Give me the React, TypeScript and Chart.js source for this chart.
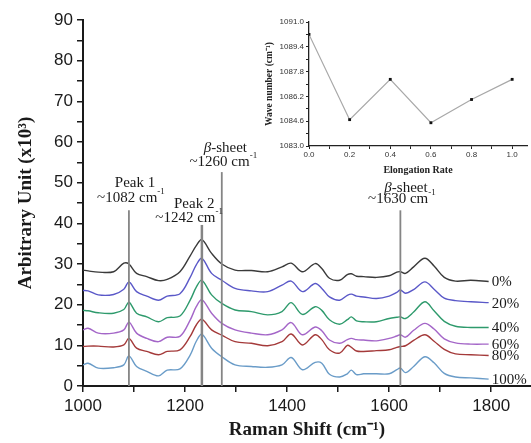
import React, { useEffect, useRef } from 'react';
import { Chart, registerables } from 'chart.js';

Chart.register(...registerables);

// Raman shift positions (cm^-1) shared by all spectra
const ramanShift = [1000, 1010, 1030, 1060, 1080, 1090, 1105, 1125, 1148, 1165, 1190, 1210, 1222, 1233, 1252, 1272, 1298, 1330, 1362, 1390, 1408, 1430, 1455, 1468, 1483, 1503, 1518, 1526, 1536, 1550, 1575, 1600, 1615, 1622, 1632, 1648, 1670, 1688, 1708, 1730, 1760, 1795];

const spectrum0 = [28.5, 28.3, 28.0, 28.1, 30.2, 30.0, 27.7, 26.9, 25.9, 26.2, 28.1, 32.0, 34.5, 36.0, 32.6, 30.0, 28.5, 28.4, 28.1, 29.3, 30.2, 28.1, 30.1, 28.9, 26.5, 26.0, 27.4, 27.6, 27.0, 26.9, 26.7, 27.1, 28.0, 28.1, 27.7, 29.3, 31.4, 29.5, 26.7, 25.8, 26.0, 25.7];
const spectrum20 = [23.5, 23.4, 22.4, 22.5, 23.8, 25.6, 23.2, 22.1, 21.1, 22.1, 22.7, 26.7, 29.8, 31.4, 27.7, 26.0, 24.0, 23.4, 23.2, 24.8, 25.8, 23.2, 25.2, 24.0, 21.9, 21.1, 22.3, 22.6, 22.1, 21.9, 21.5, 22.1, 23.0, 23.6, 22.8, 23.7, 25.6, 23.8, 21.6, 21.0, 20.7, 20.5];
const spectrum40 = [18.6, 18.5, 18.0, 17.9, 18.8, 20.6, 17.9, 17.0, 15.8, 16.8, 17.2, 21.1, 24.3, 26.0, 22.4, 20.3, 18.7, 18.3, 17.5, 18.3, 20.5, 17.6, 19.5, 18.6, 16.3, 15.2, 16.3, 17.0, 16.0, 15.8, 15.8, 16.6, 16.9, 17.0, 16.6, 18.2, 20.7, 18.5, 15.9, 14.7, 14.4, 14.4];
const spectrum60 = [13.8, 14.2, 13.0, 13.0, 13.8, 15.7, 13.0, 11.7, 10.9, 12.0, 12.2, 16.2, 19.5, 21.2, 17.9, 15.4, 13.8, 13.0, 12.6, 13.8, 15.6, 12.6, 14.5, 13.6, 11.3, 10.5, 11.4, 11.7, 11.4, 11.3, 11.1, 11.7, 12.3, 12.6, 12.0, 13.7, 15.4, 14.0, 11.6, 10.6, 10.3, 10.3];
const spectrum80 = [9.7, 9.8, 9.8, 9.6, 10.1, 11.7, 9.3, 8.5, 7.7, 8.5, 8.9, 12.2, 15.0, 16.4, 13.8, 12.5, 10.9, 10.5, 9.9, 10.9, 12.8, 10.1, 12.6, 11.4, 8.9, 8.1, 10.0, 9.5, 8.6, 8.5, 8.7, 8.9, 9.5, 9.7, 9.9, 11.2, 12.6, 11.0, 9.0, 7.9, 7.7, 7.5];
const spectrum100 = [5.2, 5.6, 4.4, 4.5, 5.2, 7.4, 4.8, 3.6, 2.5, 3.9, 4.2, 7.6, 11.0, 12.7, 9.3, 7.2, 5.2, 4.8, 4.6, 5.2, 7.0, 4.0, 5.8, 5.6, 2.9, 2.2, 3.0, 3.9, 2.8, 3.0, 3.0, 3.0, 4.0, 4.4, 3.3, 4.8, 7.2, 5.7, 3.1, 2.2, 2.0, 1.7];

const seriesLabels = ['0%', '20%', '40%', '60%', '80%', '100%'];
const seriesValues = [spectrum0, spectrum20, spectrum40, spectrum60, spectrum80, spectrum100];
const seriesColors = ['#3a3a3a', '#5a58c8', '#2e9a6c', '#a466c8', '#a43a3a', '#6a9cc8'];

// Vertical reference lines (peak positions) and their heights
const markerShift = [1090, 1233, 1272, 1622];
const markerTop = [43.2, 39.6, 52.6, 43.2];

// Inset: wave number of Peak 1 vs elongation rate
const elongationRate = [0.0, 0.2, 0.4, 0.6, 0.8, 1.0];
const waveNumber = [1090.2, 1084.7, 1087.3, 1084.5, 1086.0, 1087.3];

type Seg = { t: string; sup?: boolean; it?: boolean };
const annotations: { x: number; y: number; segs: Seg[] }[] = [
  { x: 1102, y: 49.8, segs: [{ t: 'Peak 1' }] },
  { x: 1094, y: 46.2, segs: [{ t: '~1082 cm' }, { t: '-1', sup: true }] },
  { x: 1218, y: 44.8, segs: [{ t: 'Peak 2' }] },
  { x: 1208, y: 41.2, segs: [{ t: '~1242 cm' }, { t: '-1', sup: true }] },
  { x: 1279, y: 58.6, segs: [{ t: 'β', it: true }, { t: '-sheet' }] },
  { x: 1275, y: 55.0, segs: [{ t: '~1260 cm' }, { t: '-1', sup: true }] },
  { x: 1633, y: 48.6, segs: [{ t: 'β', it: true }, { t: '-sheet' }] },
  { x: 1625, y: 45.9, segs: [{ t: '~1630 cm' }, { t: '-1', sup: true }] },
];

const SERIF = '"Liberation Serif", "Times New Roman", serif';
const SANS = '"Liberation Sans", Arial, sans-serif';

function drawRich(ctx: CanvasRenderingContext2D, segs: Seg[], cx: number, cy: number, size: number) {
  const fontFor = (s: Seg) => `${s.it ? 'italic ' : ''}${s.sup ? Math.round(size * 0.62) : size}px ${SERIF}`;
  let total = 0;
  const widths = segs.map((s) => {
    ctx.font = fontFor(s);
    const w = ctx.measureText(s.t).width;
    total += w;
    return w;
  });
  let x = cx - total / 2;
  ctx.textBaseline = 'middle';
  ctx.textAlign = 'left';
  segs.forEach((s, i) => {
    ctx.font = fontFor(s);
    ctx.fillText(s.t, x, s.sup ? cy - size * 0.45 : cy);
    x += widths[i];
  });
}

const annotationPlugin = {
  id: 'ramanAnnotations',
  afterDatasetsDraw(chart: any) {
    const ctx = chart.ctx as CanvasRenderingContext2D;
    const xs = chart.scales.x;
    const ys = chart.scales.y;
    ctx.save();
    ctx.fillStyle = '#1a1a1a';
    annotations.forEach((a) => {
      drawRich(ctx, a.segs, xs.getPixelForValue(a.x), ys.getPixelForValue(a.y), 15);
    });
    // series labels at the end of each spectrum
    ctx.font = `15px ${SERIF}`;
    ctx.textAlign = 'left';
    ctx.textBaseline = 'middle';
    seriesLabels.forEach((lab, i) => {
      const meta = chart.getDatasetMeta(i);
      const last = meta.data[meta.data.length - 1];
      ctx.fillText(lab, last.x + 3, last.y + 1);
    });
    ctx.restore();
  },
};

function MainChart() {
  const ref = useRef<HTMLCanvasElement | null>(null);
  useEffect(() => {
    if (!ref.current) return;
    const datasets: any[] = seriesValues.map((vals, i) => ({
      label: seriesLabels[i],
      data: ramanShift.map((x, j) => ({ x, y: vals[j] })),
      borderColor: seriesColors[i],
      borderWidth: 1.4,
      pointRadius: 0,
      tension: 0.35,
      fill: false,
      order: 2,
    }));
    markerShift.forEach((x, i) => {
      datasets.push({
        label: 'marker' + i,
        data: [{ x, y: 0 }, { x, y: markerTop[i] }],
        borderColor: '#858585',
        borderWidth: i === 1 ? 2.5 : 1.8,
        pointRadius: 0,
        order: 1,
      });
    });
    const chart = new Chart(ref.current, {
      type: 'line',
      data: { datasets },
      options: {
        responsive: false,
        animation: false,
        devicePixelRatio: 1,
        layout: { padding: { top: 20, left: 0, right: 0, bottom: 0 } },
        plugins: { legend: { display: false }, tooltip: { enabled: false } },
        scales: {
          x: {
            type: 'linear',
            min: 1000,
            max: 1878,
            border: { display: true, color: '#1a1a1a', width: 2 },
            grid: { drawOnChartArea: false, drawTicks: true, tickLength: 6, color: '#1a1a1a', lineWidth: 1.5 },
            ticks: {
              stepSize: 100,
              includeBounds: false,
              autoSkip: false,
              maxRotation: 0,
              padding: 4,
              color: '#1a1a1a',
              font: { family: SANS, size: 17 },
              callback: (v: any) => (Number(v) % 200 === 0 ? String(v) : ''),
            },
            title: {
              display: true,
              text: 'Raman Shift (cm⁻¹)',
              color: '#1a1a1a',
              font: { family: SERIF, size: 19, weight: 'bold' },
              padding: { top: 2, bottom: 2 },
            },
            afterFit: (s: any) => { s.height = 57; },
          },
          y: {
            type: 'linear',
            min: 0,
            max: 90,
            border: { display: true, color: '#1a1a1a', width: 2 },
            grid: { drawOnChartArea: false, drawTicks: true, tickLength: 6, color: '#1a1a1a', lineWidth: 1.5 },
            ticks: {
              stepSize: 5,
              autoSkip: false,
              padding: 4,
              color: '#1a1a1a',
              font: { family: SANS, size: 17 },
              callback: (v: any) => (Number(v) % 10 === 0 ? String(v) : ''),
            },
            title: {
              display: true,
              text: 'Arbitrary Unit (x10³)',
              color: '#1a1a1a',
              font: { family: SERIF, size: 19, weight: 'bold' },
              padding: { top: 15, bottom: 0 },
            },
            afterFit: (s: any) => { s.width = 83; },
          },
        },
      } as any,
      plugins: [annotationPlugin],
    });
    return () => chart.destroy();
  }, []);
  return <canvas ref={ref} width={531} height={443} style={{ position: 'absolute', left: 0, top: 0, width: 531, height: 443 }} />;
}

function InsetChart() {
  const ref = useRef<HTMLCanvasElement | null>(null);
  useEffect(() => {
    if (!ref.current) return;
    const chart = new Chart(ref.current, {
      type: 'line',
      data: {
        datasets: [
          {
            label: 'Wave number',
            data: elongationRate.map((x, i) => ({ x, y: waveNumber[i] })),
            borderColor: '#a8a8a8',
            borderWidth: 1.2,
            pointStyle: 'rect',
            pointRadius: 2,
            pointBackgroundColor: '#111',
            pointBorderColor: '#111',
            pointBorderWidth: 0,
            tension: 0,
          },
        ],
      },
      options: {
        responsive: false,
        animation: false,
        devicePixelRatio: 1,
        layout: { padding: { top: 22, left: 0, right: 0, bottom: 0 } },
        plugins: { legend: { display: false }, tooltip: { enabled: false } },
        scales: {
          x: {
            type: 'linear',
            min: 0,
            max: 1.073,
            border: { display: true, color: '#222', width: 1.3 },
            grid: { drawOnChartArea: false, drawTicks: true, tickLength: 3, color: '#222', lineWidth: 1 },
            ticks: {
              stepSize: 0.1,
              includeBounds: false,
              autoSkip: false,
              maxRotation: 0,
              padding: 1,
              color: '#333',
              font: { family: SANS, size: 8 },
              callback: (v: any) => (Math.round(Number(v) * 10) % 2 === 0 ? Number(v).toFixed(1) : ''),
            },
            title: {
              display: true,
              text: 'Elongation Rate',
              color: '#222',
              font: { family: SERIF, size: 10, weight: 'bold' },
              padding: { top: 2, bottom: 4 },
            },
            afterFit: (s: any) => { s.height = 34; },
          },
          y: {
            type: 'linear',
            min: 1083,
            max: 1091,
            border: { display: true, color: '#222', width: 1.3 },
            grid: { drawOnChartArea: false, drawTicks: true, tickLength: 3, color: '#222', lineWidth: 1 },
            ticks: {
              stepSize: 0.8,
              autoSkip: false,
              padding: 2,
              color: '#333',
              font: { family: SANS, size: 8 },
              callback: (v: any) => (Math.round((Number(v) - 1083) / 0.8) % 2 === 0 ? Number(v).toFixed(1) : ''),
            },
            title: {
              display: true,
              text: 'Wave number (cm⁻¹)',
              color: '#222',
              font: { family: SERIF, size: 9.5, weight: 'bold' },
              padding: { top: 4, bottom: 0 },
            },
            afterFit: (s: any) => { s.width = 49; },
          },
        },
      } as any,
    });
    return () => chart.destroy();
  }, []);
  return <canvas ref={ref} width={271} height={180} style={{ position: 'absolute', left: 260, top: 0, width: 271, height: 180 }} />;
}

export default function App() {
  return (
    <div style={{ position: 'absolute', left: 0, top: 0, width: 531, height: 443, background: '#fff', overflow: 'hidden' }}>
      <MainChart />
      <InsetChart />
    </div>
  );
}
